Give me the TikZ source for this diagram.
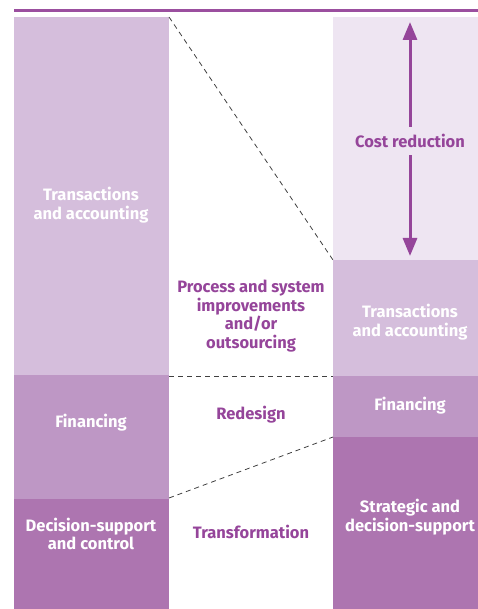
\documentclass[tikz,border=0pt]{standalone}
\usepackage{fontspec}
\setmainfont{Fira Sans}
\usetikzlibrary{arrows.meta}
\definecolor{rule}{HTML}{9B4F9F}
\definecolor{pale}{HTML}{EEE5F2}
\definecolor{light}{HTML}{D5BEDC}
\definecolor{mid}{HTML}{BE97C5}
\definecolor{deep}{HTML}{AD75B0}
\definecolor{ink}{HTML}{95459A}
\begin{document}
\begin{tikzpicture}[x=1pt,y=-1pt,
  block/.style={inner sep=0pt,outer sep=0pt,draw=none},
  wlabel/.style={text=white,font=\bfseries\fontsize{16.5}{18.5}\selectfont,align=center},
  plabel/.style={text=ink,font=\bfseries\fontsize{16.5}{18.5}\selectfont,align=center},
  guide/.style={dashed,line width=0.8pt,black!75,dash pattern=on 5pt off 4pt}]
\useasboundingbox (0,0) rectangle (478,609);
% top rule
\draw[rule,line width=2.5pt] (14,10.5) -- (478,10.5);
% left column
\fill[light] (14,17) rectangle (169,375);
\fill[mid] (14,375) rectangle (169,499);
\fill[deep] (14,499) rectangle (169,609);
% right column
\fill[pale] (333,17) rectangle (478,260);
\fill[light] (333,260) rectangle (478,376);
\fill[mid] (333,376) rectangle (478,437);
\fill[deep] (333,437) rectangle (478,609);
% corner coordinates for the guide lines
\coordinate (la) at (169,17);
\coordinate (lb) at (169,376);
\coordinate (lc) at (169,498);
\coordinate (ra) at (333,260);
\coordinate (rb) at (333,376);
\coordinate (rc) at (333,437);
\draw[guide] (la) -- (ra);
\draw[guide] (lb) -- (rb);
\draw[guide] (lc) -- (rc);
% labels on the left column
\node[wlabel] (ltx) at (91,205) {Transactions\\and accounting};
\node[wlabel] (lfin) at (91,423) {Financing};
\node[wlabel] (ldec) at (91,534) {Decision-support\\and control};
% labels between the columns
\node[plabel] (proc) at (251,316) {Process and system\\improvements\\and/or\\outsourcing};
\node[plabel] (redes) at (251,415) {Redesign};
\node[plabel] (trans) at (251,532) {Transformation};
% labels on the right column
\node[plabel] (cost) at (410,141) {Cost reduction};
\node[wlabel] (rtx) at (410,322) {Transactions\\and accounting};
\node[wlabel] (rfin) at (410,406) {Financing};
\node[wlabel] (rstr) at (410,517) {Strategic and\\decision-support};
% cost reduction arrow
\coordinate (atop) at (410,22);
\coordinate (abot) at (410,256);
\draw[ink,line width=3pt,-{Triangle[length=18pt,width=14pt]}] (cost.north) ++(0,-4) -- (atop);
\draw[ink,line width=3pt,-{Triangle[length=18pt,width=14pt]}] (cost.south) ++(0,4) -- (abot);
\end{tikzpicture}
\end{document}
